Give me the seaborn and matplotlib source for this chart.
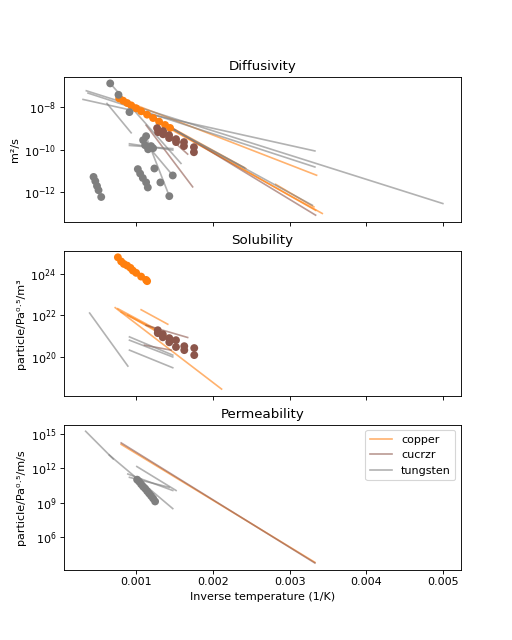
import numpy as np
import pandas as pd
import matplotlib
matplotlib.use("Agg")
import matplotlib.pyplot as plt
import matplotlib.ticker as mticker
import seaborn as sns
from matplotlib.lines import Line2D

colors = {"copper": "tab:orange", "cucrzr": "tab:brown", "tungsten": "tab:grey"}

# ---- diffusivity (x = 1/T in 1/K, y = log10 of D in m2/s)
diff_line_mat = ["copper", "copper", "copper", "copper", "copper",
                 "cucrzr", "cucrzr", "cucrzr",
                 "tungsten", "tungsten", "tungsten", "tungsten", "tungsten",
                 "tungsten", "tungsten", "tungsten", "tungsten", "tungsten", "tungsten"]
diff_line_x1 = [0.00077, 0.000805, 0.000935, 0.002818, 0.00087,
                0.00113, 0.001299, 0.001195,
                0.000308, 0.000351, 0.000373, 0.000662, 0.00062,
                0.000913, 0.000913, 0.00113, 0.001091, 0.000935, 0.00093]
diff_line_x2 = [0.003351, 0.003425, 0.002429, 0.003316, 0.003338,
                0.001736, 0.001671, 0.003338,
                0.003329, 0.004996, 0.003329, 0.001584, 0.000935,
                0.001477, 0.001477, 0.001432, 0.001477, 0.003295, 0.00241]
diff_line_y1 = [-7.57, -7.73, -7.90, -11.64, -7.80,
                -8.84, -9.00, -8.37,
                -7.62, -7.21, -7.32, -6.86, -7.81,
                -9.72, -9.80, -9.39, -9.55, -7.95, -7.95]
diff_line_y2 = [-11.21, -13.02, -10.89, -12.71, -12.87,
                -11.76, -10.21, -13.10,
                -10.06, -12.55, -10.82, -10.65, -9.20,
                -10.02, -9.95, -12.20, -11.22, -12.63, -10.85]

diff_pts_cu_x = [0.000779, 0.000831, 0.000883, 0.000935, 0.001, 0.001065,
                 0.001143, 0.001221, 0.001299, 0.001377, 0.001442]
diff_pts_cu_y = [-7.57, -7.68, -7.79, -7.90, -8.04, -8.18,
                 -8.34, -8.50, -8.67, -8.83, -8.97]
diff_pts_cz_x = [0.001273, 0.001286, 0.001351, 0.001351, 0.001429, 0.001429,
                 0.00152, 0.00152, 0.001623, 0.001623, 0.001753, 0.001753]
diff_pts_cz_y = [-8.98, -9.17, -9.12, -9.27, -9.31, -9.45,
                 -9.50, -9.64, -9.64, -9.83, -9.88, -10.12]
diff_pts_w_x = [0.000662, 0.00077, 0.000913,
                0.001091, 0.00113, 0.001117, 0.001156, 0.001195, 0.001221,
                0.001238, 0.001316, 0.001432, 0.001477,
                0.001022, 0.001052, 0.001087, 0.00113, 0.001152,
                0.000445, 0.000468, 0.00049, 0.00051, 0.000545]
diff_pts_w_y = [-6.86, -7.40, -8.22,
                -9.55, -9.36, -9.79, -9.98, -9.83, -9.93,
                -10.89, -11.55, -12.20, -11.22,
                -10.92, -11.13, -11.34, -11.55, -11.79,
                -11.29, -11.49, -11.72, -11.92, -12.24]

# ---- solubility (log10 of particle/Pa^0.5/m3)
sol_line_mat = ["copper", "copper", "copper", "copper", "copper",
                "cucrzr", "cucrzr",
                "tungsten", "tungsten", "tungsten", "tungsten"]
sol_line_x1 = [0.000727, 0.001065, 0.000762, 0.000805, 0.000892,
               0.00113, 0.001108,
               0.000394, 0.000913, 0.000913, 0.000913]
sol_line_x2 = [0.002113, 0.001412, 0.001325, 0.001432, 0.001455,
               0.001671, 0.001455,
               0.000892, 0.001477, 0.001477, 0.001477]
sol_line_y1 = [22.37, 22.27, 22.32, 22.16, 22.00,
               21.52, 20.56,
               22.11, 20.96, 20.80, 20.32]
sol_line_y2 = [18.44, 21.57, 21.20, 20.96, 20.83,
               20.93, 20.32,
               19.55, 20.08, 19.99, 19.47]

sol_pts_cu_x = [0.000762, 0.000805, 0.00084, 0.000883, 0.000926,
                0.000957, 0.001, 0.001065, 0.00113, 0.001143]
sol_pts_cu_y = [24.80, 24.60, 24.48, 24.40, 24.29,
                24.16, 24.05, 23.87, 23.71, 23.65]
sol_pts_cz_x = [0.001282, 0.001282, 0.001347, 0.001347, 0.001432, 0.001432,
                0.001519, 0.001519, 0.001627, 0.001627, 0.001757, 0.001757]
sol_pts_cz_y = [21.28, 21.14, 21.09, 20.94, 20.90, 20.70,
                20.80, 20.47, 20.51, 20.32, 20.42, 20.08]

# ---- permeability (log10 of particle/Pa^0.5/m/s)
perm_line_mat = ["copper", "cucrzr",
                 "tungsten", "tungsten", "tungsten", "tungsten", "tungsten"]
perm_line_x1 = [0.000805, 0.000805, 0.000342, 0.000649, 0.001009, 0.000892, 0.000913]
perm_line_x2 = [0.003329, 0.003329, 0.000701, 0.001477, 0.00152, 0.001477, 0.001429]
perm_line_y1 = [14.06, 14.19, 15.20, 13.14, 12.14, 11.49, 11.20]
perm_line_y2 = [3.83, 3.77, 12.80, 8.49, 10.06, 10.06, 10.34]

perm_pts_w_x = [0.001013, 0.001039, 0.001065, 0.001091, 0.001117,
                0.001143, 0.001169, 0.001195, 0.001221, 0.001247]
perm_pts_w_y = [11.00, 10.83, 10.61, 10.40, 10.23,
                10.01, 9.80, 9.59, 9.37, 9.11]
perm_ticks = [1e6, 1e9, 1e12, 1e15]


def lines_frame(mat, x1, x2, y1, y2):
    rows = []
    for i in range(len(mat)):
        rows.append((i, mat[i], x1[i], 10.0 ** y1[i]))
        rows.append((i, mat[i], x2[i], 10.0 ** y2[i]))
    return pd.DataFrame(rows, columns=["line", "material", "invT", "value"])


def points_frame(groups):
    rows = []
    for mat, xs, ys in groups:
        for x, y in zip(xs, ys):
            rows.append((mat, x, 10.0 ** y))
    return pd.DataFrame(rows, columns=["material", "invT", "value"])


panels = [
    ("Diffusivity", "m²/s",
     lines_frame(diff_line_mat, diff_line_x1, diff_line_x2, diff_line_y1, diff_line_y2),
     points_frame([("copper", diff_pts_cu_x, diff_pts_cu_y),
                   ("cucrzr", diff_pts_cz_x, diff_pts_cz_y),
                   ("tungsten", diff_pts_w_x, diff_pts_w_y)])),
    ("Solubility", "particle/Pa⁰·⁵/m³",
     lines_frame(sol_line_mat, sol_line_x1, sol_line_x2, sol_line_y1, sol_line_y2),
     points_frame([("copper", sol_pts_cu_x, sol_pts_cu_y),
                   ("cucrzr", sol_pts_cz_x, sol_pts_cz_y)])),
    ("Permeability", "particle/Pa⁰·⁵/m/s",
     lines_frame(perm_line_mat, perm_line_x1, perm_line_x2, perm_line_y1, perm_line_y2),
     points_frame([("tungsten", perm_pts_w_x, perm_pts_w_y)])),
]

fig, axs = plt.subplots(3, 1, sharex=True, figsize=(6.4, 8), dpi=80)

for ax, (title, ylabel, df_lines, df_pts) in zip(axs, panels):
    ax.set_yscale("log")
    sns.lineplot(data=df_lines, x="invT", y="value", hue="material", units="line",
                 estimator=None, sort=False, palette=colors, alpha=0.6,
                 legend=False, ax=ax)
    sns.scatterplot(data=df_pts, x="invT", y="value", hue="material", palette=colors,
                    s=50, linewidth=0, legend=False, ax=ax, zorder=3)
    ax.set_title(title)
    ax.set_ylabel(ylabel)
    ax.set_xlabel("")

axs[2].set_yticks(perm_ticks)
axs[2].yaxis.set_minor_locator(mticker.NullLocator())

axs[2].set_xlabel("Inverse temperature (1/K)")
axs[2].set_xlim(0.00006, 0.00523)

handles = [Line2D([], [], color=colors[m], alpha=0.6) for m in colors]
axs[2].legend(handles, list(colors), loc="upper right")

plt.savefig("out.png", dpi=80)
